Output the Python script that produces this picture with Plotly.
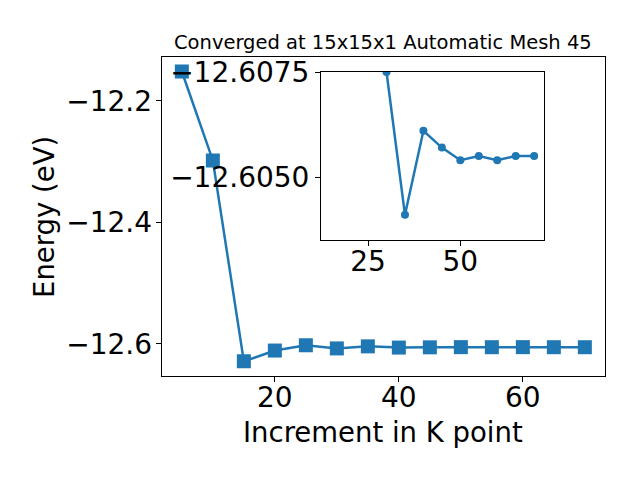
import plotly.graph_objects as go

k_points = [5, 10, 15, 20, 25, 30, 35, 40, 45, 50, 55, 60, 65, 70]
energy = [-12.1516, -12.298, -12.6288, -12.611, -12.6023, -12.6075, -12.6041,
          -12.6061, -12.6057, -12.6054, -12.6055, -12.6054, -12.6055, -12.6055]

inset_k = k_points[5:]
inset_energy = energy[5:]

title_text = "Converged at 15x15x1 Automatic Mesh 45"
xlabel = "Increment in K point"
ylabel = "Energy (eV)"

main_xticks = [20, 40, 60]
main_yticks = [-12.2, -12.4, -12.6]
inset_xticks = [25, 50]
inset_yticks = [-12.6075, -12.6050]

# page has an 8px body margin; figure is sized to fit the 640x480 window
OFF = 8
W, H = 640 - OFF, 480 - OFF
C = "#1f77b4"
FONT = "DejaVu Sans"

def px(x0, x1):
    return [(x0 - OFF) / W, (x1 - OFF) / W]

def py(top, bottom):
    return [1 - (bottom - OFF) / H, 1 - (top - OFF) / H]

def pxp(x):
    return (x - OFF) / W

def pyp(y):
    return 1 - (y - OFF) / H

fig = go.Figure()
fig.add_trace(go.Scatter(x=k_points, y=energy, mode="lines+markers",
                         line=dict(color=C, width=2.5),
                         marker=dict(symbol="square", size=14, color=C),
                         xaxis="x", yaxis="y", showlegend=False))
fig.add_trace(go.Scatter(x=inset_k, y=inset_energy, mode="lines+markers",
                         line=dict(color=C, width=2.5),
                         marker=dict(symbol="circle", size=8, color=C),
                         xaxis="x2", yaxis="y2", showlegend=False))

axis_common = dict(showgrid=False, zeroline=False, showline=True, linecolor="black",
                   linewidth=1, mirror=True, ticks="outside", ticklen=5, tickwidth=1,
                   tickcolor="black", automargin=False,
                   tickfont=dict(family=FONT, size=28, color="black"))

fig.update_layout(
    width=W, height=H, margin=dict(l=0, r=0, t=0, b=0, autoexpand=False),
    paper_bgcolor="white", plot_bgcolor="white",
    xaxis=dict(domain=px(161.7, 605), range=[1.75, 73.25], tickvals=main_xticks,
               anchor="y", ticklabelstandoff=-9, **axis_common),
    yaxis=dict(domain=py(57, 376), range=[-12.6529, -12.1277], tickvals=main_yticks,
               tickformat=".1f", anchor="x", ticklabelstandoff=-2, **axis_common),
    xaxis2=dict(domain=px(321, 544.3), range=[12.25, 72.75], tickvals=inset_xticks,
                anchor="y2", ticklabelstandoff=-9, **axis_common),
    yaxis2=dict(domain=py(72, 240), range=[-12.6035, -12.6075], tickvals=inset_yticks,
                tickformat=".4f", anchor="x2", **axis_common),
    annotations=[
        dict(text=title_text, x=pxp(383), y=pyp(42), xref="paper", yref="paper",
             showarrow=False, xanchor="center", yanchor="middle",
             font=dict(family=FONT, size=19.5, color="black")),
        dict(text=xlabel, x=pxp(383), y=pyp(432), xref="paper", yref="paper",
             showarrow=False, xanchor="center", yanchor="middle",
             font=dict(family=FONT, size=27.5, color="black")),
        dict(text=ylabel, x=pxp(44), y=pyp(217), xref="paper", yref="paper",
             showarrow=False, xanchor="center", yanchor="middle", textangle=-90,
             font=dict(family=FONT, size=27.5, color="black")),
    ],
)

fig.write_html("out.html")
